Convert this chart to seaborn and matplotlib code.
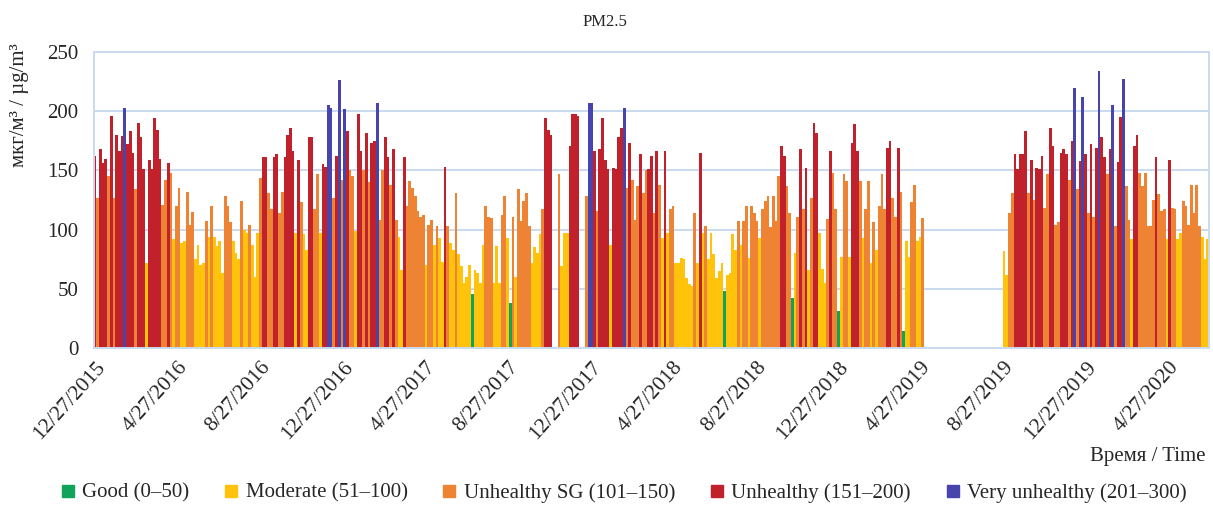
import numpy as np
import pandas as pd
import matplotlib
matplotlib.use("Agg")
import matplotlib.pyplot as plt
import seaborn as sns
from matplotlib.lines import Line2D

# ---------------- data (PM2.5, µg/m³, 4-day steps from 12/27/2015) ----------------
start_date = "2015-12-27"
step_days = 4

pm_2016 = [162, 127, 168, 156, 160, 145, 196, 127, 180, 166, 179, 203, 172, 183, 165, 134, 190, 178,
           151, 72, 159, 151, 194, 184, 160, 121, 142, 156, 148, 92, 120, 135, 89, 90, 132, 104, 115,
           75, 87, 70, 72, 107, 94, 120, 94, 86, 90, 63, 128, 120, 106,
           90, 80, 75, 124, 100, 97, 104, 87, 60, 97, 144, 161, 161, 131, 117, 161, 164, 114, 132, 161,
           180, 186, 166, 97, 159, 123, 96, 83, 178, 178, 117, 147, 97, 155, 153, 205, 203, 127, 162,
           226, 142, 202, 183, 150, 145, 99, 198, 166, 150, 182, 140, 173]

pm_2017 = [175, 207, 108, 150, 178, 161, 138, 168, 108, 94, 66, 161, 120, 141, 135, 128, 116, 111, 112,
           70, 104, 108, 87, 103, 93, 73, 153, 103, 89, 83, 131, 79, 69, 55, 60, 70, 46, 66, 63, 55, 87,
           120, 111, 110, 55, 86, 55, 112, 128, 93,
           38, 111, 60, 134, 107, 124, 131, 103, 72, 85, 80, 96, 117, 194, 184, 180, None, None, 147, 69,
           97, 97, 171, 198, 198, 196, None, None, 128, 207, 207, 166, 116, 168, 194, 159, 151, 87, 152,
           151, 178, 186, 203, 135, 173, 142, 108, 137, 164, 131, 150, 151, 162]

pm_2018 = [114, 166, 138, 93, 166, 97, 117, 120, 72, 72, 76, 75, 59, 54, 52, 114, 72, 165, 97, 103, 75,
           97, 79, 59, 65, 72, 48, 62, 63, 96, 83, 107, 87, 107, 120, 76, 120, 114, 107, 93, 117, 124,
           128, 102, 128, 107, 145, 171, 162, 137, 114, 42,
           80, 111, 168, 117, 152, 66, 127, 190, 182, 97, 67, 55, 109, 166, 148, 117, 31, 77, 147, 141,
           77, 173, 189, 166, 141, 93, 117, 141, 72, 106, 83, 120, 147, 117, 169, 175, 127, 111, 169,
           132, 14, 90, 77, 123, 138, 90, 94, 110]

pm_missing = [None] * 29   # no measurements (spring-summer 2019)

pm_2019 = [82, 62, 114, 131, 164, 151, 164, 164, 183, 131, 159, 125, 152, 151, 162, 118, 147, 186, 171,
           104, 106, 165, 168, 164, 142, 175, 220, 134, 158, 212, 164, 114, 172, 111, 169, 234, 178,
           161, 147, 168, 205, 103, 157, 195, 227, 137, 108, 92, 171, 180, 148, 137, 148, 103, 103, 125,
           161, 130, 116, 117, 92, 159, 118, 117, 92, 97, 124, 120, 104, 138, 114, 138, 103, 94, 75, 92]

categories = ["Good (0–50)", "Moderate (51–100)", "Unhealthy SG (101–150)",
              "Unhealthy (151–200)", "Very unhealthy (201–300)"]
upper_bounds = [50, 100, 150, 200, 300]
colors = ["#12a35b", "#fec30a", "#ee8433", "#c0212a", "#4744ad"]

tick_start = "2015-12-27"
tick_end = "2020-04-27"

# ---------------- frame ----------------
values = pm_2016 + pm_2017 + pm_2018 + pm_missing + pm_2019
dates = pd.date_range(start_date, periods=len(values), freq=f"{step_days}D")
df = pd.DataFrame({"date": dates, "pm": pd.to_numeric(pd.Series(values, dtype="float"))})
df["day"] = (df["date"] - pd.Timestamp(start_date)).dt.days
df = df.dropna().reset_index(drop=True)
df["cat"] = pd.cut(df["pm"], [0] + upper_bounds, labels=categories).astype(str)

# ---------------- plot ----------------
sns.set_theme(style="white")
plt.rcParams["font.family"] = ["Liberation Serif", "DejaVu Serif"]

W, H = 1213, 507
fig = plt.figure(figsize=(W / 100, H / 100), dpi=100)
x0, x1 = -2, 1642
left_px, right_px, top_px, bottom_px = 93.6, 1209, 52, 348
ax = fig.add_axes([left_px / W, 1 - bottom_px / H, (right_px - left_px) / W, (bottom_px - top_px) / H])

sns.barplot(data=df, x="day", y="pm", hue="cat", hue_order=categories,
            palette=dict(zip(categories, colors)), saturation=1, native_scale=True, dodge=False,
            width=1.0, errorbar=None, linewidth=0, legend=False, ax=ax)

grid_c = "#c9dbf0"
ax.set_xlim(x0, x1)
ax.set_ylim(0, 250)
ax.set_yticks(range(0, 251, 50))
ax.yaxis.grid(True, color=grid_c, lw=1.4)
ax.xaxis.grid(False)
ax.set_axisbelow(True)
for s in ["left", "right", "top", "bottom"]:
    ax.spines[s].set_visible(True)
    ax.spines[s].set_color(grid_c)
    ax.spines[s].set_linewidth(1.4)

tick_dates = pd.date_range(tick_start, tick_end, freq=pd.DateOffset(months=4))
tick_pos = [(d - pd.Timestamp(start_date)).days for d in tick_dates]
tick_lab = [f"{d.month}/{d.day}/{d.year}" for d in tick_dates]
ax.set_xticks(tick_pos)
ax.set_xticklabels(tick_lab, rotation=48, ha="right", va="top", rotation_mode="anchor", fontsize=15.5)
ax.tick_params(axis="x", length=4, color=grid_c, width=1, pad=3)
ax.tick_params(axis="y", length=0, pad=11, labelsize=15)
ax.set_xlabel("")
ax.set_ylabel("")

fig.text(605 / W, 1 - 22 / H, "PM2.5", ha="center", va="center", fontsize=12)
fig.text(20 / W, 1 - 105 / H, "мкг/м³ / µg/m³", rotation=90, ha="center", va="center", fontsize=15)
fig.text(1205 / W, 1 - 457 / H, "Время / Time", ha="right", va="center", fontsize=15)

handles = [Line2D([], [], marker="s", ls="", color=c, markersize=9) for c in colors]
fig.legend(handles, categories, loc="center", bbox_to_anchor=(623 / W, 1 - 493 / H), ncol=5,
           frameon=False, fontsize=15, handletextpad=0.3, columnspacing=1.6, handlelength=0.8)

fig.savefig("out.png", dpi=100)
